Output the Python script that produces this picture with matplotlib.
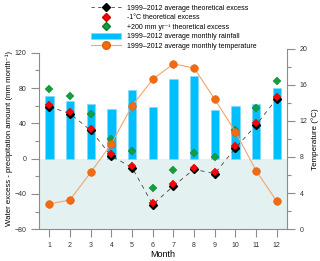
"""Monthly water excess, rainfall and temperature chart"""
import matplotlib
matplotlib.use("Agg")
from matplotlib import pyplot as plt
from matplotlib.lines import Line2D
from matplotlib.patches import Patch
from matplotlib.ticker import MultipleLocator

plt.rcParams['font.family'] = ['Liberation Sans', 'DejaVu Sans']

months = [1, 2, 3, 4, 5, 6, 7, 8, 9, 10, 11, 12]
rainfall = [71, 65, 62, 56, 78, 59, 90, 94, 55, 60, 62, 80]
excess_avg = [59, 51, 32, 3, -10, -52, -31, -12, -17, 12, 38, 68]
excess_minus1c = [61, 53, 34, 5, -8, -50, -29, -10, -15, 14, 40, 70]
excess_plus200 = [79, 71, 51, 22, 9, -33, -13, 7, 2, 33, 57, 88]
temperature = [2.8, 3.25, 6.3, 9.45, 13.65, 16.6, 18.3, 17.85, 14.4, 10.8, 6.5, 3.1]

labels = ["1999\u20132012 average theoretical excess",
          "-1\u00b0C theoretical excess",
          "+200 mm yr\u207b\u00b9 theoretical excess",
          "1999\u20132012 average monthly rainfall",
          "1999\u20132012 average monthly temperature"]

GRAY = '#8c8c8c'
ORANGE = '#f26b13'

fig = plt.figure(figsize=(3.2, 2.61), dpi=100)
ax = fig.add_axes([0.122, 0.1215, 0.775, 0.6925])
ax2 = ax.twinx()

ax.axhspan(-80, 0, color='#e3f1f1', zorder=0, lw=0)
ax.bar(months, rainfall, width=0.4, color='#00bfff', edgecolor='#7fdcff',
       linewidth=0.5, zorder=1)
ax.plot(months, excess_avg, color='#444444', ls=(0, (5, 5)), lw=0.6,
        marker='D', ms=4, mfc='black', mec='black', zorder=3)
ax.plot(months, excess_minus1c, ls='none', marker='D', ms=4,
        mfc='#ff0000', mec='#cc0000', mew=0.3, zorder=4)
ax.plot(months, excess_plus200, ls='none', marker='D', ms=4,
        mfc='#13a03c', mec='#0c7a2c', mew=0.3, zorder=4)
ax2.plot(months, temperature, color='#f7a36a', lw=0.8, marker='o', ms=5.5,
         mfc=ORANGE, mec='#e25d05', mew=0.4)

ax.set_xlim(0.5, 12.5)
ax.set_ylim(-80, 124.8)
ax2.set_ylim(0, 20.0)

ax.set_xticks(months)
ax.yaxis.set_major_locator(MultipleLocator(40))
ax.yaxis.set_minor_locator(MultipleLocator(20))
ax2.yaxis.set_major_locator(MultipleLocator(4))
ax2.yaxis.set_minor_locator(MultipleLocator(2))

for a in (ax, ax2):
    a.spines['top'].set_visible(False)
    for s in a.spines.values():
        s.set_color(GRAY)
        s.set_linewidth(0.8)
    a.tick_params(which='major', length=6, width=0.8, color=GRAY,
                  labelsize=5, labelcolor='#333333', pad=3)
    a.tick_params(which='minor', length=3, width=0.8, color=GRAY)
ax.spines['right'].set_visible(False)
ax2.spines['left'].set_visible(False)
ax2.spines['bottom'].set_visible(False)
ax.spines['left'].set_bounds(-80, 120)
ax2.spines['right'].set_bounds(0, 20)
ax.tick_params(axis='x', which='minor', length=0)

ax.set_xlabel("Month", fontsize=6.5, labelpad=1)
ax.set_ylabel("Water excess - precipitation amount (mm month\u207b\u00b9)",
              fontsize=5.6, labelpad=1.5)
ax2.set_ylabel("Temperature (\u00b0C)", fontsize=5.8, labelpad=3)

handles = [
    Line2D([], [], color='#444444', ls=(0, (4, 4)), lw=0.6, marker='D',
           ms=4, mfc='black', mec='black'),
    Line2D([], [], ls='none', marker='D', ms=4, mfc='#ff0000', mec='#cc0000'),
    Line2D([], [], ls='none', marker='D', ms=4, mfc='#13a03c', mec='#0c7a2c'),
    Patch(facecolor='#00bfff', edgecolor='#7fdcff', lw=0.5),
    Line2D([], [], color='#f7a36a', lw=0.8, marker='o', ms=5.5,
           mfc=ORANGE, mec='#e25d05'),
]
fig.legend(handles, labels, loc='upper left', bbox_to_anchor=(0.275, 0.995),
           frameon=False, fontsize=5, handlelength=4.3, handleheight=0.8,
           handletextpad=0.8, labelspacing=0.35, borderaxespad=0.1)

fig.savefig("out.png", dpi=100)
